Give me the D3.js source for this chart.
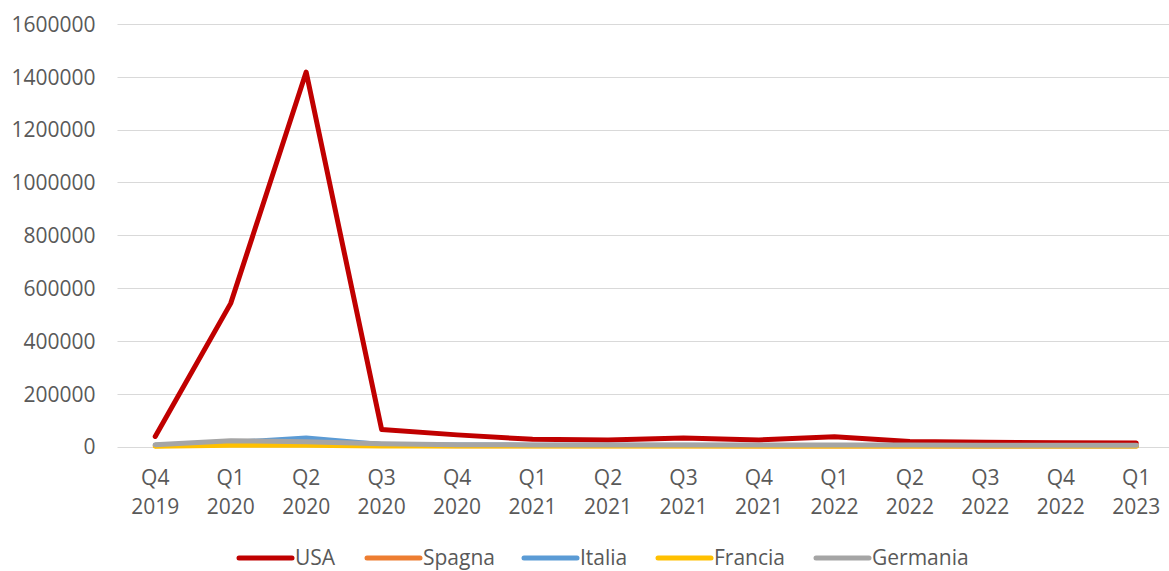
<!DOCTYPE html>
<html>
<head>
<meta charset="utf-8">
<script src="https://cdn.jsdelivr.net/npm/d3@7"></script>
<style>
  body { margin: 0; background: #fff; }
  svg { display: block; }
</style>
</head>
<body>
<svg id="chart" width="1169" height="571"></svg>
<script>
const quarters = ['Q4 2019', 'Q1 2020', 'Q2 2020', 'Q3 2020', 'Q4 2020', 'Q1 2021', 'Q2 2021',
  'Q3 2021', 'Q4 2021', 'Q1 2022', 'Q2 2022', 'Q3 2022', 'Q4 2022', 'Q1 2023'];

const usa = [38000, 542000, 1418000, 64000, 44000, 27000, 25000, 32000, 25000, 37000, 19000, 16000, 14000, 13000];
const spagna = [3000, 10000, 15000, 5000, 3000, 3000, 2500, 2500, 2000, 2000, 1500, 1500, 1500, 1500];
const italia = [5000, 15000, 32000, 8000, 6000, 5000, 5000, 4500, 4000, 4000, 3500, 3000, 3000, 3000];
const francia = [1000, 5000, 5000, 2000, 2000, 2000, 2000, 2000, 1500, 1500, 1500, 1500, 1500, 1500];
const germania = [7000, 22000, 18000, 10000, 7000, 6000, 6000, 6000, 6000, 6000, 5500, 5000, 5000, 5000];

const seriesNames = ['USA', 'Spagna', 'Italia', 'Francia', 'Germania'];
const seriesColors = ['#C00000', '#ED7D31', '#5B9BD5', '#FFC000', '#A5A5A5'];
const yTicks = [0, 200000, 400000, 600000, 800000, 1000000, 1200000, 1400000, 1600000];

const series = [usa, spagna, italia, francia, germania].map(function (values, i) {
  return { name: seriesNames[i], color: seriesColors[i], values: values };
});

const svg = d3.select('#chart');
const FONT = '"Open Sans", "Liberation Sans", sans-serif';
const FONT_SIZE = 21;
const TEXT_COLOR = '#595959';

const plotLeft = 117.5, plotRight = 1174, plotTop = 24, plotBottom = 446.5;

const x = d3.scaleBand().domain(quarters).range([plotLeft, plotRight]);
const y = d3.scaleLinear().domain([0, 1600000]).range([plotBottom, plotTop]);

// gridlines
svg.append('g')
  .selectAll('line')
  .data(yTicks)
  .join('line')
  .attr('x1', plotLeft)
  .attr('x2', plotRight)
  .attr('y1', function (d) { return Math.round(y(d)) + 0.5; })
  .attr('y2', function (d) { return Math.round(y(d)) + 0.5; })
  .attr('stroke', '#d9d9d9')
  .attr('stroke-width', 1);

// y axis labels
const yAxis = svg.append('g')
  .attr('transform', 'translate(' + (plotLeft - 22) + ',0)')
  .call(d3.axisLeft(y).tickValues(yTicks).tickSize(0).tickPadding(0).tickFormat(d3.format('d')));
yAxis.select('.domain').remove();
yAxis.selectAll('text')
  .attr('font-family', FONT)
  .attr('font-size', FONT_SIZE)
  .attr('fill', TEXT_COLOR)
  .attr('dy', '0.35em');

// x axis labels (two lines)
const xAxis = svg.append('g')
  .attr('transform', 'translate(0,' + plotBottom + ')')
  .call(d3.axisBottom(x).tickSize(0).tickFormat(''));
xAxis.select('.domain').remove();
xAxis.selectAll('.tick').each(function (d) {
  const parts = d.split(' ');
  const t = d3.select(this).append('text')
    .attr('font-family', FONT)
    .attr('font-size', FONT_SIZE)
    .attr('fill', TEXT_COLOR)
    .attr('text-anchor', 'middle');
  t.append('tspan').attr('x', 0).attr('y', 38).text(parts[0]);
  t.append('tspan').attr('x', 0).attr('y', 67).text(parts[1]);
});

// lines
const line = d3.line()
  .x(function (d, i) { return x(quarters[i]) + x.bandwidth() / 2; })
  .y(function (d) { return y(d); });

svg.append('g')
  .selectAll('path')
  .data(series)
  .join('path')
  .attr('d', function (s) { return line(s.values); })
  .attr('fill', 'none')
  .attr('stroke', function (s) { return s.color; })
  .attr('stroke-width', 5)
  .attr('stroke-linejoin', 'round')
  .attr('stroke-linecap', 'round');

// legend
const legendX = [237, 365, 522, 656, 814];
const legend = svg.append('g')
  .selectAll('g')
  .data(series)
  .join('g')
  .attr('transform', function (s, i) { return 'translate(' + legendX[i] + ',558)'; });
legend.append('line')
  .attr('x1', 2).attr('x2', 55)
  .attr('stroke', function (s) { return s.color; })
  .attr('stroke-width', 5)
  .attr('stroke-linecap', 'round');
legend.append('text')
  .attr('x', 58)
  .attr('dy', '0.35em')
  .attr('font-family', FONT)
  .attr('font-size', FONT_SIZE)
  .attr('fill', TEXT_COLOR)
  .text(function (s) { return s.name; });
</script>
</body>
</html>
